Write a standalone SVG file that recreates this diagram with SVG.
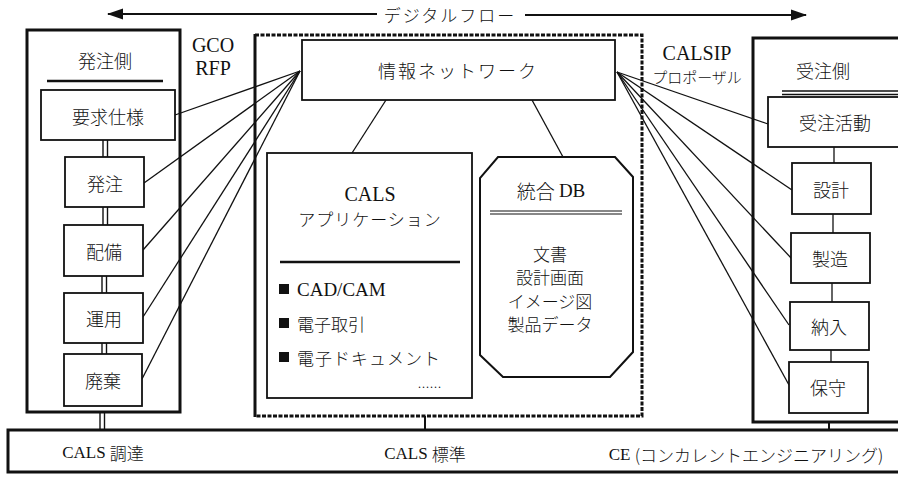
<svg xmlns="http://www.w3.org/2000/svg" width="898" height="477" viewBox="0 0 898 477">
<style>
text{fill:#111;text-anchor:middle;dominant-baseline:central}
.lat{font-family:"Liberation Serif","DejaVu Serif",serif;font-weight:normal}
.jp{font-family:"Noto Sans CJK JP",sans-serif;font-weight:300}
.box{fill:#fff;stroke:#111;stroke-width:1.8}
.panel{fill:none;stroke:#111;stroke-width:3}
.ln{stroke:#111;stroke-width:1.3;fill:none}
.dbl{stroke:#111;stroke-width:1.4}
.rule{stroke:#111;stroke-width:2.5}
</style>
<defs>
<marker id="ah" markerWidth="16" markerHeight="12" refX="15" refY="6" orient="auto-start-reverse" markerUnits="userSpaceOnUse">
<path d="M0,0.5 L16,6 L0,11.5 Z" fill="#111"/>
</marker>
</defs>
<rect width="898" height="477" fill="#fff"/>

<g id="digital-flow">
<line x1="108" y1="14" x2="377" y2="14" stroke="#111" stroke-width="2.2" marker-start="url(#ah)"/>
<line x1="525" y1="15" x2="806" y2="15" stroke="#111" stroke-width="2.2" marker-end="url(#ah)"/>
<text class="jp" x="450" y="14" font-size="17" letter-spacing="2">デジタルフロー</text>
</g>

<g id="bar">
<rect x="8" y="430" width="900" height="42" fill="#fff" stroke="#111" stroke-width="3"/>
<text x="103" y="452" font-size="17"><tspan class="lat">CALS </tspan><tspan class="jp">調達</tspan></text>
<text x="425" y="453" font-size="17"><tspan class="lat">CALS </tspan><tspan class="jp">標準</tspan></text>
<text x="746" y="454" font-size="17"><tspan class="lat">CE </tspan><tspan class="jp">(コンカレントエンジニアリング)</tspan></text>
</g>

<g id="connectors">
<line class="ln" x1="300" y1="71" x2="175" y2="115"/>
<line class="ln" x1="300" y1="71" x2="144" y2="183"/>
<line class="ln" x1="300" y1="71" x2="143" y2="250"/>
<line class="ln" x1="300" y1="71" x2="143" y2="317"/>
<line class="ln" x1="300" y1="71" x2="142" y2="379"/>
<line class="ln" x1="617" y1="72" x2="768" y2="124"/>
<line class="ln" x1="617" y1="72" x2="792" y2="190"/>
<line class="ln" x1="617" y1="72" x2="792" y2="259"/>
<line class="ln" x1="617" y1="72" x2="789" y2="325"/>
<line class="ln" x1="617" y1="72" x2="789" y2="385"/>
<line class="ln" x1="386" y1="100" x2="352" y2="153"/>
<line class="ln" x1="532" y1="100" x2="563" y2="157"/>
<line class="dbl" x1="103" y1="140" x2="103" y2="157"/><line class="dbl" x1="107.5" y1="140" x2="107.5" y2="157"/>
<line class="dbl" x1="103" y1="207" x2="103" y2="225"/><line class="dbl" x1="107.5" y1="207" x2="107.5" y2="225"/>
<line class="dbl" x1="102" y1="276" x2="102" y2="293"/><line class="dbl" x1="106.5" y1="276" x2="106.5" y2="293"/>
<line class="dbl" x1="102" y1="343" x2="102" y2="354"/><line class="dbl" x1="106.5" y1="343" x2="106.5" y2="354"/>
<line class="dbl" x1="100" y1="413" x2="100" y2="430"/><line class="dbl" x1="104.5" y1="413" x2="104.5" y2="430"/>
<line x1="425" y1="416" x2="425" y2="430" stroke="#111" stroke-width="2"/>
<line class="ln" x1="834" y1="147" x2="834" y2="163"/>
<line class="ln" x1="833" y1="214" x2="833" y2="233"/>
<line class="ln" x1="832" y1="283" x2="832" y2="302"/>
<line class="ln" x1="831" y1="350" x2="831" y2="362"/>
<line x1="829" y1="422" x2="829" y2="430" stroke="#111" stroke-width="2"/>
</g>

<g id="orderer-panel">
<rect class="panel" x="27" y="30" width="153" height="382"/>
<text class="jp" x="105" y="60" font-size="18">発注側</text>
<line class="rule" x1="47" y1="81" x2="163" y2="81"/>
</g>
<g id="req-spec"><rect class="box" x="41" y="90" width="134" height="50"/><text class="jp" x="108" y="116" font-size="18">要求仕様</text></g>
<g id="order"><rect class="box" x="65" y="157" width="79" height="50"/><text class="jp" x="105" y="183" font-size="18">発注</text></g>
<g id="deploy"><rect class="box" x="64" y="225" width="79" height="51"/><text class="jp" x="104" y="251" font-size="18">配備</text></g>
<g id="operate"><rect class="box" x="64" y="293" width="79" height="50"/><text class="jp" x="104" y="318" font-size="18">運用</text></g>
<g id="dispose"><rect class="box" x="64" y="354" width="78" height="52"/><text class="jp" x="103" y="380" font-size="18">廃棄</text></g>

<g id="gco-rfp">
<text class="lat" x="213" y="45" font-size="20">GCO</text>
<text class="lat" x="213" y="68" font-size="20">RFP</text>
</g>
<g id="calsip">
<text class="lat" x="697" y="53" font-size="20">CALSIP</text>
<text class="jp" x="697" y="76" font-size="15">プロポーザル</text>
</g>

<g id="center-panel">
<path d="M255,35 H642 V416 H255" fill="none" stroke="#111" stroke-width="3" stroke-dasharray="4,1.5"/>
<line x1="255" y1="34" x2="255" y2="417" stroke="#111" stroke-width="3"/>
</g>
<g id="info-network"><rect class="box" x="302" y="40" width="313" height="60"/><text class="jp" x="458" y="70" font-size="18" letter-spacing="2">情報ネットワーク</text></g>

<g id="cals-app">
<rect class="box" x="267" y="153" width="205" height="245"/>
<text class="lat" x="370" y="194" font-size="20">CALS</text>
<text class="jp" x="370" y="218" font-size="17" letter-spacing="1">アプリケーション</text>
<line class="rule" x1="280" y1="262" x2="460" y2="262"/>
<rect x="279" y="284" width="10" height="10" fill="#111"/>
<text class="lat" x="297" y="289" font-size="19" style="text-anchor:start">CAD/CAM</text>
<rect x="279" y="318" width="10" height="10" fill="#111"/>
<text class="jp" x="297" y="323" font-size="17" style="text-anchor:start">電子取引</text>
<rect x="279" y="352" width="10" height="10" fill="#111"/>
<text class="jp" x="297" y="357" font-size="17" style="text-anchor:start" letter-spacing="1">電子ドキュメント</text>
<text class="lat" x="430" y="384" font-size="12" letter-spacing="1">......</text>
</g>

<g id="integrated-db">
<path d="M498,157 H615 L633,177 V352 L610,377 H503 L480,355 V178 Z" class="box" style="stroke-width:2"/>
<text x="551" y="190" font-size="19"><tspan class="jp">統合 </tspan><tspan class="lat">DB</tspan></text>
<line x1="490" y1="211" x2="622" y2="211" stroke="#111" stroke-width="1.2"/>
<line x1="490" y1="214" x2="622" y2="214" stroke="#111" stroke-width="1.2"/>
<text class="jp" x="550" y="253" font-size="17">文書</text>
<text class="jp" x="550" y="276" font-size="17">設計画面</text>
<text class="jp" x="550" y="300" font-size="17">イメージ図</text>
<text class="jp" x="550" y="323" font-size="17">製品データ</text>
</g>

<g id="contractor-panel">
<rect class="panel" x="753" y="38" width="160" height="384"/>
<text class="jp" x="823" y="70" font-size="18">受注側</text>
<line x1="782" y1="91" x2="900" y2="91" stroke="#111" stroke-width="1.3"/>
<line x1="782" y1="94.5" x2="900" y2="94.5" stroke="#111" stroke-width="1.3"/>
</g>
<g id="order-recv"><rect class="box" x="768" y="97" width="140" height="50"/><text class="jp" x="835" y="122" font-size="18">受注活動</text></g>
<g id="design"><rect class="box" x="792" y="163" width="79" height="51"/><text class="jp" x="831" y="189" font-size="18">設計</text></g>
<g id="manufacture"><rect class="box" x="791" y="233" width="79" height="50"/><text class="jp" x="830" y="258" font-size="18">製造</text></g>
<g id="deliver"><rect class="box" x="790" y="302" width="79" height="48"/><text class="jp" x="829" y="326" font-size="18">納入</text></g>
<g id="maintain"><rect class="box" x="789" y="362" width="79" height="51"/><text class="jp" x="828" y="387" font-size="18">保守</text></g>
</svg>
